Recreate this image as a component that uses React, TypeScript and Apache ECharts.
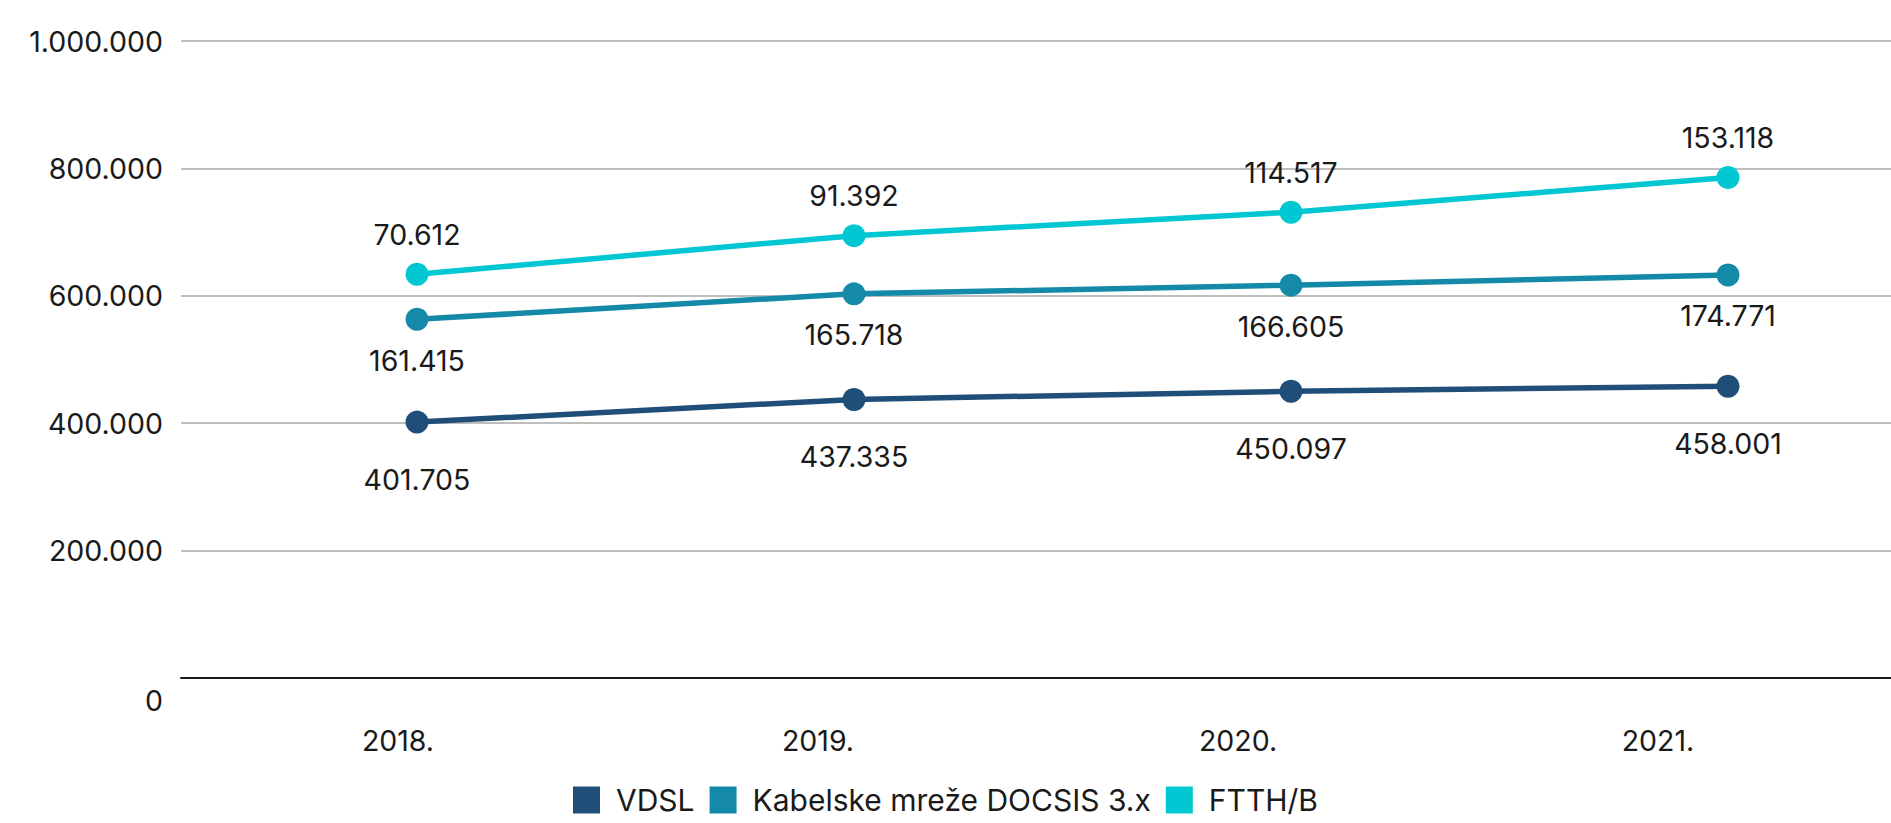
import React, { useEffect, useRef } from "react";
import * as echarts from "echarts";

const years = ["2018.", "2019.", "2020.", "2021."];
const vdsl = [401705, 437335, 450097, 458001];
const kabel = [161415, 165718, 166605, 174771];
const ftth = [70612, 91392, 114517, 153118];
const seriesNames = ["VDSL", "Kabelske mreže DOCSIS 3.x", "FTTH/B"];
const colors = ["#1f4e79", "#158aa8", "#00c7d1"];

const fmt = (v: number) => String(Math.round(v)).replace(/\B(?=(\d{3})+(?!\d))/g, ".");
const FONT = "Inter";

export default function App() {
  const ref = useRef<HTMLDivElement>(null);
  useEffect(() => {
    if (!ref.current) return;
    const chart = echarts.init(ref.current, undefined, { renderer: "svg" });
    const textStyle = { fontFamily: FONT, fontSize: 28.5, color: "#1a1a1a" };
    const mkSeries = (i: number, data: number[], pos: "top" | "bottom", dist: number) => ({
      name: seriesNames[i],
      type: "line",
      stack: "total",
      xAxisIndex: 1,
      yAxisIndex: 1,
      data,
      symbol: "circle",
      symbolSize: 23,
      lineStyle: { width: 5.5, color: colors[i] },
      itemStyle: { color: colors[i] },
      label: {
        show: true,
        position: pos,
        distance: dist,
        formatter: (p: any) => fmt(p.value),
        ...textStyle,
      },
    });
    chart.setOption({
      animation: false,
      textStyle: { fontFamily: FONT },
      grid: [
        { left: 181, right: 0, top: 41, bottom: 145 },
        { left: 417, right: 163, top: 41, bottom: 145 },
        { left: 398, right: 233, top: 41, bottom: 145 },
      ],
      xAxis: [
        {
          type: "value",
          gridIndex: 0,
          min: 0,
          max: 1,
          axisLine: { show: true, lineStyle: { color: "#1a1a1a", width: 2 } },
          axisTick: { show: false },
          axisLabel: { show: false },
          splitLine: { show: false },
        },
        { type: "category", gridIndex: 1, data: years, boundaryGap: false, show: false },
        {
          type: "category",
          gridIndex: 2,
          data: years,
          boundaryGap: false,
          axisLine: { show: false },
          axisTick: { show: false },
          axisLabel: { margin: 48, ...textStyle },
        },
      ],
      yAxis: [
        {
          type: "value",
          gridIndex: 0,
          min: 0,
          max: 1000000,
          interval: 200000,
          axisLine: { show: false },
          axisTick: { show: false },
          splitLine: { lineStyle: { color: "#a8a8a8", width: 1.5 } },
          axisLabel: {
            margin: 18,
            ...textStyle,
            formatter: (v: number) => (v === 0 ? "{z|0}" : fmt(v)),
            rich: { z: { ...textStyle, padding: [44, 0, 0, 0] } },
          },
        },
        { type: "value", gridIndex: 1, min: 0, max: 1000000, show: false },
        { type: "value", gridIndex: 2, min: 0, max: 1000000, show: false },
      ],
      legend: {
        bottom: 3,
        left: "center",
        icon: "rect",
        itemWidth: 27,
        itemHeight: 27,
        itemGap: 15,
        data: seriesNames,
        textStyle: { fontFamily: FONT, fontSize: 30, color: "#1a1a1a", padding: [0, 0, 0, 11] },
      },
      series: [
        mkSeries(0, vdsl, "bottom", 31),
        mkSeries(1, kabel, "bottom", 15),
        mkSeries(2, ftth, "top", 14),
      ],
    });
    return () => chart.dispose();
  }, []);
  return (
    <div
      ref={ref}
      style={{ position: "absolute", left: 0, top: 0, width: 1891, height: 823 }}
    />
  );
}
